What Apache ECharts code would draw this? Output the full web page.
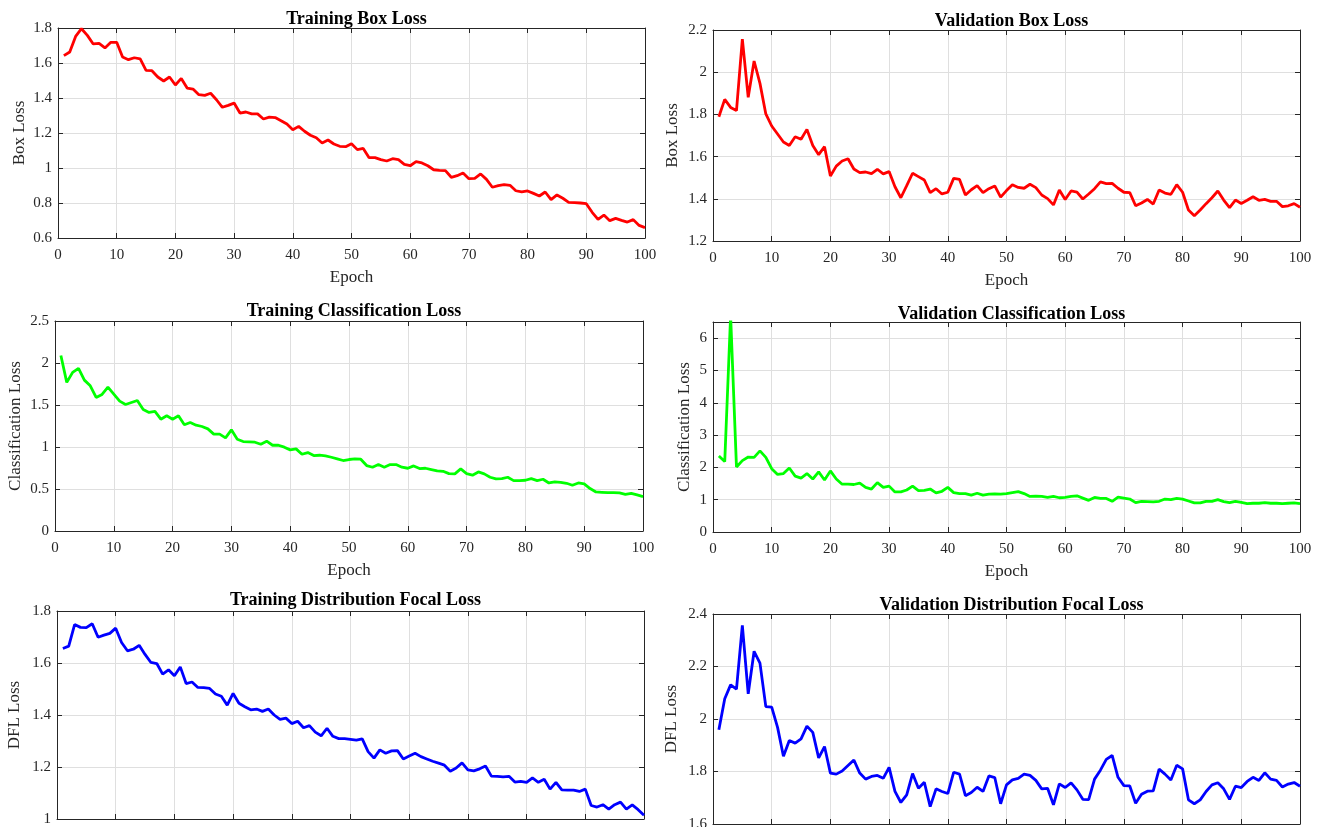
<!DOCTYPE html>
<html lang="en">
<head>
<meta charset="UTF-8">
<title>Training / Validation Loss</title>
<style>
    html, body { margin: 0; padding: 0; background: #fff; }
    #chart { width: 1325px; height: 827px; }
</style>
</head>
<body>
<div id="chart"></div>
<script src="https://cdn.jsdelivr.net/npm/echarts@6/dist/echarts.min.js"></script>
<script>
    // epoch index 1..100
    const epochs = Array.from({ length: 100 }, (_, i) => i + 1);

    const trainBox = [
        1.642, 1.663, 1.752, 1.796, 1.758, 1.709, 1.712, 1.686, 1.718, 1.718,
        1.634, 1.619, 1.630, 1.623, 1.558, 1.556, 1.520, 1.497, 1.520, 1.474,
        1.512, 1.457, 1.451, 1.419, 1.415, 1.427, 1.390, 1.347, 1.358, 1.371,
        1.314, 1.320, 1.309, 1.309, 1.280, 1.291, 1.288, 1.270, 1.251, 1.219,
        1.238, 1.210, 1.187, 1.173, 1.143, 1.160, 1.137, 1.124, 1.122, 1.139,
        1.105, 1.112, 1.059, 1.059, 1.048, 1.040, 1.053, 1.048, 1.021, 1.013,
        1.036, 1.029, 1.013, 0.990, 0.987, 0.985, 0.947, 0.956, 0.971, 0.939,
        0.941, 0.966, 0.935, 0.890, 0.899, 0.905, 0.901, 0.870, 0.863, 0.869,
        0.855, 0.840, 0.863, 0.819, 0.846, 0.827, 0.804, 0.802, 0.800, 0.796,
        0.747, 0.707, 0.731, 0.699, 0.712, 0.701, 0.691, 0.705, 0.672, 0.659
    ];

    const valBox = [
        1.789, 1.871, 1.833, 1.818, 2.157, 1.881, 2.053, 1.947, 1.802, 1.745,
        1.707, 1.669, 1.653, 1.694, 1.682, 1.729, 1.653, 1.609, 1.647, 1.508,
        1.555, 1.579, 1.590, 1.541, 1.524, 1.527, 1.519, 1.540, 1.518, 1.529,
        1.457, 1.405, 1.462, 1.521, 1.505, 1.489, 1.429, 1.448, 1.423, 1.431,
        1.497, 1.492, 1.418, 1.443, 1.462, 1.429, 1.448, 1.461, 1.408, 1.439,
        1.467, 1.454, 1.450, 1.469, 1.453, 1.418, 1.401, 1.371, 1.442, 1.397,
        1.437, 1.432, 1.399, 1.423, 1.448, 1.480, 1.472, 1.473, 1.450, 1.431,
        1.429, 1.367, 1.380, 1.397, 1.375, 1.442, 1.427, 1.421, 1.467, 1.431,
        1.347, 1.320, 1.347, 1.377, 1.405, 1.437, 1.394, 1.358, 1.394, 1.378,
        1.393, 1.410, 1.393, 1.397, 1.388, 1.388, 1.363, 1.367, 1.377, 1.360
    ];

    const trainCls = [
        2.090, 1.769, 1.888, 1.936, 1.796, 1.729, 1.590, 1.626, 1.713, 1.630,
        1.546, 1.506, 1.530, 1.554, 1.447, 1.411, 1.423, 1.331, 1.371, 1.331,
        1.371, 1.264, 1.292, 1.260, 1.244, 1.216, 1.153, 1.153, 1.109, 1.204,
        1.093, 1.065, 1.061, 1.057, 1.033, 1.069, 1.021, 1.021, 0.998, 0.966,
        0.978, 0.914, 0.934, 0.898, 0.902, 0.894, 0.878, 0.859, 0.839, 0.851,
        0.858, 0.855, 0.779, 0.759, 0.791, 0.759, 0.791, 0.791, 0.759, 0.747,
        0.775, 0.743, 0.747, 0.731, 0.715, 0.711, 0.683, 0.680, 0.739, 0.683,
        0.664, 0.703, 0.680, 0.640, 0.620, 0.624, 0.640, 0.600, 0.600, 0.604,
        0.624, 0.600, 0.616, 0.572, 0.584, 0.580, 0.568, 0.545, 0.572, 0.560,
        0.505, 0.465, 0.461, 0.457, 0.457, 0.453, 0.437, 0.449, 0.430, 0.410
    ];

    const valCls = [
        2.35, 2.18, 6.70, 2.01, 2.21, 2.32, 2.31, 2.51, 2.31, 1.96,
        1.78, 1.81, 1.98, 1.73, 1.67, 1.81, 1.64, 1.86, 1.61, 1.89,
        1.64, 1.48, 1.48, 1.47, 1.51, 1.38, 1.33, 1.53, 1.38, 1.42,
        1.24, 1.24, 1.30, 1.42, 1.28, 1.29, 1.33, 1.21, 1.26, 1.38,
        1.22, 1.19, 1.19, 1.14, 1.20, 1.14, 1.17, 1.18, 1.17, 1.19,
        1.22, 1.25, 1.19, 1.10, 1.11, 1.10, 1.07, 1.10, 1.06, 1.07,
        1.10, 1.12, 1.05, 0.98, 1.07, 1.04, 1.04, 0.95, 1.08, 1.05,
        1.02, 0.91, 0.95, 0.94, 0.93, 0.95, 1.02, 1.00, 1.04, 1.02,
        0.96, 0.90, 0.90, 0.95, 0.95, 1.00, 0.94, 0.91, 0.95, 0.92,
        0.88, 0.89, 0.89, 0.91, 0.89, 0.89, 0.88, 0.89, 0.90, 0.88
    ];

    const trainDfl = [
        1.656, 1.665, 1.748, 1.737, 1.736, 1.751, 1.699, 1.707, 1.714, 1.734,
        1.679, 1.647, 1.653, 1.668, 1.633, 1.602, 1.598, 1.557, 1.574, 1.551,
        1.585, 1.521, 1.527, 1.506, 1.505, 1.502, 1.481, 1.472, 1.438, 1.483,
        1.445, 1.432, 1.420, 1.423, 1.414, 1.423, 1.400, 1.383, 1.388, 1.367,
        1.376, 1.351, 1.359, 1.334, 1.320, 1.349, 1.318, 1.309, 1.309, 1.306,
        1.303, 1.308, 1.259, 1.234, 1.266, 1.253, 1.262, 1.263, 1.231, 1.242,
        1.253, 1.240, 1.231, 1.222, 1.215, 1.207, 1.184, 1.196, 1.216, 1.189,
        1.185, 1.193, 1.204, 1.165, 1.164, 1.162, 1.164, 1.142, 1.145, 1.141,
        1.158, 1.141, 1.153, 1.115, 1.141, 1.112, 1.111, 1.111, 1.106, 1.115,
        1.052, 1.046, 1.055, 1.038, 1.055, 1.065, 1.038, 1.054, 1.036, 1.014
    ];

    const valDfl = [
        1.959, 2.077, 2.130, 2.114, 2.357, 2.096, 2.258, 2.213, 2.047, 2.045,
        1.968, 1.858, 1.918, 1.908, 1.924, 1.973, 1.949, 1.852, 1.895, 1.794,
        1.790, 1.802, 1.823, 1.844, 1.794, 1.771, 1.781, 1.785, 1.774, 1.816,
        1.724, 1.682, 1.711, 1.792, 1.736, 1.759, 1.666, 1.734, 1.724, 1.716,
        1.797, 1.790, 1.708, 1.720, 1.740, 1.724, 1.783, 1.777, 1.677, 1.749,
        1.768, 1.774, 1.790, 1.785, 1.766, 1.734, 1.736, 1.673, 1.753, 1.739,
        1.757, 1.730, 1.694, 1.693, 1.771, 1.805, 1.846, 1.861, 1.778, 1.746,
        1.745, 1.679, 1.713, 1.725, 1.726, 1.809, 1.790, 1.768, 1.824, 1.810,
        1.692, 1.677, 1.692, 1.724, 1.749, 1.757, 1.734, 1.694, 1.744, 1.739,
        1.762, 1.778, 1.766, 1.795, 1.771, 1.766, 1.741, 1.752, 1.758, 1.744
    ];

    const FONT = "'Liberation Serif', 'Times New Roman', serif";
    const AXIS_COLOR = '#262626';
    const GRID_COLOR = '#dfdfdf';

    const panels = [
        { title: 'Training Box Loss', titleTop: 5, rect: [58, 28, 587, 210],
          min: 0.6, max: 1.8, step: 0.2, topLabel: true, yName: 'Box Loss', yGap: 30, data: trainBox, color: '#ff0000' },
        { title: 'Validation Box Loss', titleTop: 7, rect: [713, 30, 587, 211],
          min: 1.2, max: 2.2, step: 0.2, topLabel: true, yName: 'Box Loss', yGap: 32, data: valBox, color: '#ff0000' },
        { title: 'Training Classification Loss', titleTop: 297, rect: [55, 321, 588, 210],
          min: 0, max: 2.5, step: 0.5, topLabel: true, yName: 'Classification Loss', yGap: 31, data: trainCls, color: '#00ff00' },
        { title: 'Validation Classification Loss', titleTop: 300, rect: [713, 322, 587, 210],
          min: 0, max: 6.5, step: 1, topLabel: false, yName: 'Classification Loss', yGap: 20, data: valCls, color: '#00ff00' },
        { title: 'Training Distribution Focal Loss', titleTop: 586, rect: [57, 611, 587, 208],
          min: 1, max: 1.8, step: 0.2, topLabel: true, yName: 'DFL Loss', yGap: 34, data: trainDfl, color: '#0000ff' },
        { title: 'Validation Distribution Focal Loss', titleTop: 591, rect: [713, 614, 587, 210],
          min: 1.6, max: 2.4, step: 0.2, topLabel: true, yName: 'DFL Loss', yGap: 33, data: valDfl, color: '#0000ff' }
    ];

    const tickStyle = { show: true, inside: true, length: 5, lineStyle: { color: AXIS_COLOR } };
    const lineStyle = { show: true, onZero: false, lineStyle: { color: AXIS_COLOR, width: 1 } };
    const labelStyle = { color: AXIS_COLOR, fontFamily: FONT, fontSize: 15 };
    const nameStyle = { color: AXIS_COLOR, fontFamily: FONT, fontSize: 17 };

    const title = [], grid = [], xAxis = [], yAxis = [], series = [];

    panels.forEach((p, i) => {
        const [l, t, w, h] = p.rect;
        grid.push({ left: l, top: t, width: w, height: h, containLabel: false, outerBoundsMode: 'none' });
        title.push({
            text: p.title, left: l + w / 2, top: p.titleTop, textAlign: 'center',
            textStyle: { fontFamily: FONT, fontSize: 18, fontWeight: 'bold', color: '#000' }
        });
        // bottom / top x axes
        xAxis.push({
            type: 'value', gridIndex: i, min: 0, max: 100, interval: 10, position: 'bottom',
            name: 'Epoch', nameLocation: 'middle', nameGap: 31, nameTextStyle: nameStyle,
            axisLine: lineStyle, axisTick: tickStyle,
            axisLabel: Object.assign({ margin: 10 }, labelStyle),
            splitLine: { show: true, lineStyle: { color: GRID_COLOR, width: 1 } }
        });
        xAxis.push({
            type: 'value', gridIndex: i, min: 0, max: 100, interval: 10, position: 'top',
            axisLine: lineStyle, axisTick: tickStyle, axisLabel: { show: false }, splitLine: { show: false }
        });
        // left / right y axes
        yAxis.push({
            type: 'value', gridIndex: i, min: p.min, max: p.max, interval: p.step, position: 'left',
            name: p.yName, nameLocation: 'middle', nameGap: p.yGap, nameTextStyle: nameStyle,
            axisLine: lineStyle, axisTick: tickStyle,
            axisLabel: Object.assign({ margin: 6, showMaxLabel: p.topLabel }, labelStyle),
            splitLine: { show: true, lineStyle: { color: GRID_COLOR, width: 1 } }
        });
        yAxis.push({
            type: 'value', gridIndex: i, min: p.min, max: p.max, interval: p.step, position: 'right',
            axisLine: lineStyle, axisTick: tickStyle, axisLabel: { show: false }, splitLine: { show: false }
        });
        series.push({
            type: 'line', xAxisIndex: 2 * i, yAxisIndex: 2 * i,
            data: p.data.map((v, k) => [epochs[k], v]),
            showSymbol: false, clip: true,
            lineStyle: { color: p.color, width: 2.8 },
            itemStyle: { color: p.color }
        });
    });

    const chart = echarts.init(document.getElementById('chart'));
    chart.setOption({ animation: false, backgroundColor: '#fff', title, grid, xAxis, yAxis, series });
</script>
</body>
</html>
